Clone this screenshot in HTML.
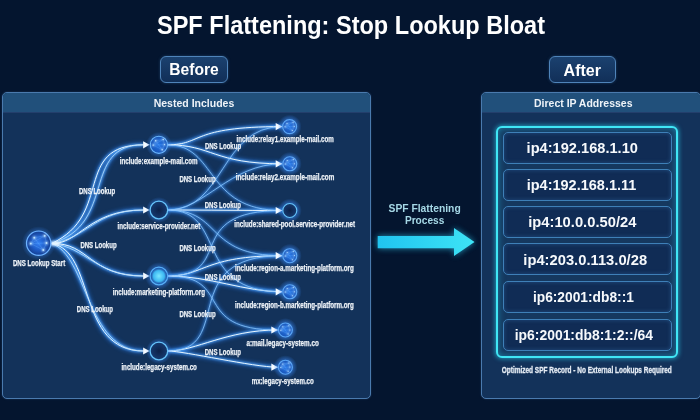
<!DOCTYPE html>
<html><head><meta charset="utf-8">
<style>
*{margin:0;padding:0;box-sizing:border-box}
html,body{width:700px;height:420px;overflow:hidden;background:#04152f;font-family:"Liberation Sans",sans-serif;color:#fff}
.abs{position:absolute}
#title{left:0;top:10px;width:700px;text-align:center;transform:scaleX(.946);font-weight:bold;font-size:25px;line-height:30px;color:#fff}
.btn{position:absolute;height:27px;border:1px solid #4f84ba;border-radius:6px;background:linear-gradient(#1b416f,#112f58);box-shadow:0 0 3px rgba(80,140,210,.35);font-weight:bold;font-size:17px;line-height:25px;text-align:center;color:#fff}
.panel{position:absolute;top:91.5px;height:307px;border:1px solid #4a7aae;box-shadow:0 0 2px rgba(90,140,200,.3);border-radius:5px;background:#13325a;overflow:hidden}
.panel .hd{position:absolute;left:0;top:0;right:0;height:20.5px;background:#21507b;border-bottom:1px solid #233f6c}
.hdt{position:absolute;font-weight:bold;font-size:11px;line-height:12px;color:#eef4fa;white-space:nowrap}
#cyan{position:absolute;left:496px;top:126px;width:182px;height:232px;border:2px solid #40e6f6;border-radius:6px;box-shadow:0 0 4px 1px rgba(40,210,240,.6), inset 0 0 7px rgba(40,200,235,.5);background:#15385f}
.ip{position:absolute;left:502.8px;width:169px;height:32.3px;border:1px solid #3e80b8;border-radius:5px;background:#102c55;box-shadow:inset 0 0 4px rgba(70,140,210,.35);font-weight:bold;font-size:15px;line-height:31px;text-align:center;color:#f4f8fc;white-space:nowrap}
.cap{position:absolute;font-weight:bold;white-space:nowrap;color:#e8eef6;transform-origin:0 0}
</style></head><body>
<div class="btn" style="left:160px;top:56px;width:68px"></div>
<div class="btn" style="left:549px;top:56px;width:67px"></div>

<div class="panel" style="left:2px;width:369px"><div class="hd"></div></div>

<div class="panel" style="left:481px;width:220px"><div class="hd"></div></div>

<div id="cyan"></div>
<div class="ip" style="top:131.8px"></div>
<div class="ip" style="top:168.8px"></div>
<div class="ip" style="top:206px"></div>
<div class="ip" style="top:243.2px"></div>
<div class="ip" style="top:281.2px"></div>
<div class="ip" style="top:319px"></div>

<svg class="abs" style="left:0;top:0;will-change:transform" width="700" height="420">
<defs>
<linearGradient id="ag" x1="0" x2="1"><stop offset="0" stop-color="#20c4f0"/><stop offset="1" stop-color="#3ee4f6"/></linearGradient>
<radialGradient id="halo"><stop offset=".55" stop-color="#3a8cff" stop-opacity=".55"/><stop offset="1" stop-color="#3a8cff" stop-opacity="0"/></radialGradient>
<radialGradient id="nodefill" cx=".5" cy=".5" r=".5"><stop offset="0" stop-color="#1e6ee0"/><stop offset="1" stop-color="#1a56b8"/></radialGradient>
<radialGradient id="startfill" cx=".5" cy=".5" r=".5"><stop offset="0" stop-color="#2e7cf2"/><stop offset=".55" stop-color="#1e5cc8"/><stop offset=".9" stop-color="#17459c"/><stop offset="1" stop-color="#2a66d0"/></radialGradient>
<filter id="dotglow" x="-50%" y="-50%" width="200%" height="200%"><feGaussianBlur stdDeviation="0.9"/></filter>
<radialGradient id="ringfill"><stop offset="0" stop-color="#0c2148"/><stop offset="1" stop-color="#163a70"/></radialGradient>
<radialGradient id="cyanfill" cx=".5" cy=".5" r=".5"><stop offset="0" stop-color="#7ae8ff"/><stop offset="1" stop-color="#38b4f2"/></radialGradient>
<filter id="glow" x="-20%" y="-40%" width="140%" height="180%"><feGaussianBlur stdDeviation="3"/></filter>
<filter id="lglow" x="-10%" y="-10%" width="120%" height="120%"><feGaussianBlur stdDeviation="2"/></filter>
<filter id="lglow2" x="-10%" y="-10%" width="120%" height="120%"><feGaussianBlur stdDeviation="0.8"/></filter>
</defs>
<path d="M377.7 236 H454 V228 L474.5 242 L454 256 V248.3 H377.7 Z" fill="#2fc6f0" filter="url(#glow)" opacity=".7"/>
<path d="M377.7 236 H454 V228 L474.5 242 L454 256 V248.3 H377.7 Z" fill="url(#ag)"/>
<g fill="none" stroke="#2f86ff" stroke-width="4" opacity=".55" filter="url(#lglow)"><path d="M51.5,243.5 C114.1,214.8 72,145 143.5,144.8"/><path d="M51.5,243.5 C79.5,244.3 87.9,210 143.5,210"/><path d="M51.5,243.5 C89.7,242.5 88.7,276 143.5,276"/><path d="M51.5,243.5 C95.9,250.7 76.2,351 143.5,351"/><path d="M167.5,144.8 C203.5,144.8 189.0,126.6 282.0,126.6"/><path d="M167.5,144.8 C212.5,144.8 213.0,163.8 282.0,163.8"/><path d="M168.0,210.0 C208.0,210.0 242.0,210.5 282.0,210.5"/><path d="M168.0,276.0 C204.0,276.0 204.0,255.7 282.0,255.7"/><path d="M168.0,276.0 C209.0,276.0 245.0,291.8 282.0,291.8"/><path d="M168.0,351.0 C196.0,351.0 226.6,330.0 277.6,330.0"/><path d="M168.0,351.0 C184.0,351.0 253.6,367.2 277.6,367.2"/><path d="M51.5,243.5 C118,224 80,145 143.5,144.8"/><path d="M51.5,243.5 C86,239 95,210 143.5,210"/><path d="M51.5,243.5 C86,247 96,276 143.5,276"/><path d="M51.5,243.5 C88,256 86,351 143.5,351"/></g>
<g fill="none" stroke="#2f86ff" stroke-width="3" opacity=".4" filter="url(#lglow)"><path d="M167.5,144.8 C217.5,144.8 204.0,210.5 282.0,210.5"/><path d="M168.0,210.0 C225.0,210.0 220.0,126.6 282.0,126.6"/><path d="M168.0,210.0 C204.0,210.0 230.0,163.8 282.0,163.8"/><path d="M168.0,210.0 C223.0,210.0 204.0,255.7 282.0,255.7"/><path d="M168.0,210.0 C228.0,210.0 192.0,291.8 282.0,291.8"/><path d="M168.0,276.0 C237.0,276.0 180.0,210.5 282.0,210.5"/><path d="M168.0,276.0 C235.0,276.0 189.6,330.0 277.6,330.0"/><path d="M168.0,351.0 C236.0,351.0 175.0,255.7 282.0,255.7"/></g>
<g fill="none" stroke="#56aaff" stroke-width="2.2" opacity=".8" filter="url(#lglow2)"><path d="M51.5,243.5 C114.1,214.8 72,145 143.5,144.8"/><path d="M51.5,243.5 C79.5,244.3 87.9,210 143.5,210"/><path d="M51.5,243.5 C89.7,242.5 88.7,276 143.5,276"/><path d="M51.5,243.5 C95.9,250.7 76.2,351 143.5,351"/><path d="M167.5,144.8 C203.5,144.8 189.0,126.6 282.0,126.6"/><path d="M167.5,144.8 C212.5,144.8 213.0,163.8 282.0,163.8"/><path d="M168.0,210.0 C208.0,210.0 242.0,210.5 282.0,210.5"/><path d="M168.0,276.0 C204.0,276.0 204.0,255.7 282.0,255.7"/><path d="M168.0,276.0 C209.0,276.0 245.0,291.8 282.0,291.8"/><path d="M168.0,351.0 C196.0,351.0 226.6,330.0 277.6,330.0"/><path d="M168.0,351.0 C184.0,351.0 253.6,367.2 277.6,367.2"/><path d="M51.5,243.5 C118,224 80,145 143.5,144.8"/><path d="M51.5,243.5 C86,239 95,210 143.5,210"/><path d="M51.5,243.5 C86,247 96,276 143.5,276"/><path d="M51.5,243.5 C88,256 86,351 143.5,351"/></g>
<g fill="none" stroke="#4a9cf0" stroke-width="1.6" opacity=".7" filter="url(#lglow2)"><path d="M167.5,144.8 C217.5,144.8 204.0,210.5 282.0,210.5"/><path d="M168.0,210.0 C225.0,210.0 220.0,126.6 282.0,126.6"/><path d="M168.0,210.0 C204.0,210.0 230.0,163.8 282.0,163.8"/><path d="M168.0,210.0 C223.0,210.0 204.0,255.7 282.0,255.7"/><path d="M168.0,210.0 C228.0,210.0 192.0,291.8 282.0,291.8"/><path d="M168.0,276.0 C237.0,276.0 180.0,210.5 282.0,210.5"/><path d="M168.0,276.0 C235.0,276.0 189.6,330.0 277.6,330.0"/><path d="M168.0,351.0 C236.0,351.0 175.0,255.7 282.0,255.7"/></g>
<g fill="none" stroke="#e8f6ff" stroke-width="1"><path d="M51.5,243.5 C114.1,214.8 72,145 143.5,144.8"/><path d="M51.5,243.5 C79.5,244.3 87.9,210 143.5,210"/><path d="M51.5,243.5 C89.7,242.5 88.7,276 143.5,276"/><path d="M51.5,243.5 C95.9,250.7 76.2,351 143.5,351"/><path d="M167.5,144.8 C203.5,144.8 189.0,126.6 282.0,126.6"/><path d="M167.5,144.8 C212.5,144.8 213.0,163.8 282.0,163.8"/><path d="M168.0,210.0 C208.0,210.0 242.0,210.5 282.0,210.5"/><path d="M168.0,276.0 C204.0,276.0 204.0,255.7 282.0,255.7"/><path d="M168.0,276.0 C209.0,276.0 245.0,291.8 282.0,291.8"/><path d="M168.0,351.0 C196.0,351.0 226.6,330.0 277.6,330.0"/><path d="M168.0,351.0 C184.0,351.0 253.6,367.2 277.6,367.2"/></g>
<g fill="none" stroke="#b8e0ff" stroke-width=".8"><path d="M51.5,243.5 C118,224 80,145 143.5,144.8"/><path d="M51.5,243.5 C86,239 95,210 143.5,210"/><path d="M51.5,243.5 C86,247 96,276 143.5,276"/><path d="M51.5,243.5 C88,256 86,351 143.5,351"/></g>
<g fill="none" stroke="#8cc6ff" stroke-width=".8"><path d="M167.5,144.8 C217.5,144.8 204.0,210.5 282.0,210.5"/><path d="M168.0,210.0 C225.0,210.0 220.0,126.6 282.0,126.6"/><path d="M168.0,210.0 C204.0,210.0 230.0,163.8 282.0,163.8"/><path d="M168.0,210.0 C223.0,210.0 204.0,255.7 282.0,255.7"/><path d="M168.0,210.0 C228.0,210.0 192.0,291.8 282.0,291.8"/><path d="M168.0,276.0 C237.0,276.0 180.0,210.5 282.0,210.5"/><path d="M168.0,276.0 C235.0,276.0 189.6,330.0 277.6,330.0"/><path d="M168.0,351.0 C236.0,351.0 175.0,255.7 282.0,255.7"/></g>
<g fill="#f4faff"><path d="M143.1,141.2 L149.6,144.8 L143.1,148.4 Z"/><path d="M143.1,206.4 L149.6,210.0 L143.1,213.6 Z"/><path d="M143.1,272.4 L149.6,276.0 L143.1,279.6 Z"/><path d="M143.1,347.4 L149.6,351.0 L143.1,354.6 Z"/><path d="M275.7,123.0 L282.2,126.6 L275.7,130.2 Z"/><path d="M275.7,160.2 L282.2,163.8 L275.7,167.4 Z"/><path d="M275.7,206.9 L282.2,210.5 L275.7,214.1 Z"/><path d="M275.7,252.1 L282.2,255.7 L275.7,259.3 Z"/><path d="M275.7,288.2 L282.2,291.8 L275.7,295.4 Z"/><path d="M271.3,326.4 L277.8,330.0 L271.3,333.6 Z"/><path d="M271.3,363.6 L277.8,367.2 L271.3,370.8 Z"/></g>
<circle cx="38.7" cy="243.2" r="17" fill="url(#halo)"/><ellipse cx="55" cy="243.5" rx="5" ry="2.2" fill="#e8f6ff" filter="url(#dotglow)"/><circle cx="38.7" cy="243.2" r="12.2" fill="url(#startfill)" stroke="#6fb4ff" stroke-width="1.2"/><g filter="url(#dotglow)"><line x1="34.3" y1="237.7" x2="44.7" y2="235.8" stroke="#5ea8ff" stroke-width=".5" opacity=".6"/><line x1="34.3" y1="237.7" x2="30.8" y2="243.6" stroke="#5ea8ff" stroke-width=".5" opacity=".6"/><line x1="34.3" y1="237.7" x2="43.3" y2="250.0" stroke="#5ea8ff" stroke-width=".5" opacity=".6"/><line x1="44.7" y1="235.8" x2="30.8" y2="243.6" stroke="#5ea8ff" stroke-width=".5" opacity=".6"/><line x1="44.7" y1="235.8" x2="46.5" y2="243.0" stroke="#5ea8ff" stroke-width=".5" opacity=".6"/><line x1="30.8" y1="243.6" x2="46.5" y2="243.0" stroke="#5ea8ff" stroke-width=".5" opacity=".6"/><line x1="30.8" y1="243.6" x2="43.3" y2="250.0" stroke="#5ea8ff" stroke-width=".5" opacity=".6"/><line x1="46.5" y1="243.0" x2="43.3" y2="250.0" stroke="#5ea8ff" stroke-width=".5" opacity=".6"/><circle cx="34.3" cy="237.7" r="1.5" fill="#bfe4ff"/><circle cx="44.7" cy="235.8" r="1.5" fill="#bfe4ff"/><circle cx="30.8" cy="243.6" r="1.5" fill="#bfe4ff"/><circle cx="46.5" cy="243.0" r="1.5" fill="#bfe4ff"/><circle cx="43.3" cy="250.0" r="1.5" fill="#bfe4ff"/></g><line x1="34.3" y1="237.7" x2="44.7" y2="235.8" stroke="#5ea8ff" stroke-width=".5" opacity=".6"/><line x1="34.3" y1="237.7" x2="30.8" y2="243.6" stroke="#5ea8ff" stroke-width=".5" opacity=".6"/><line x1="34.3" y1="237.7" x2="43.3" y2="250.0" stroke="#5ea8ff" stroke-width=".5" opacity=".6"/><line x1="44.7" y1="235.8" x2="30.8" y2="243.6" stroke="#5ea8ff" stroke-width=".5" opacity=".6"/><line x1="44.7" y1="235.8" x2="46.5" y2="243.0" stroke="#5ea8ff" stroke-width=".5" opacity=".6"/><line x1="30.8" y1="243.6" x2="46.5" y2="243.0" stroke="#5ea8ff" stroke-width=".5" opacity=".6"/><line x1="30.8" y1="243.6" x2="43.3" y2="250.0" stroke="#5ea8ff" stroke-width=".5" opacity=".6"/><line x1="46.5" y1="243.0" x2="43.3" y2="250.0" stroke="#5ea8ff" stroke-width=".5" opacity=".6"/><circle cx="34.3" cy="237.7" r="0.9" fill="#bfe4ff"/><circle cx="44.7" cy="235.8" r="0.9" fill="#bfe4ff"/><circle cx="30.8" cy="243.6" r="0.9" fill="#bfe4ff"/><circle cx="46.5" cy="243.0" r="0.9" fill="#bfe4ff"/><circle cx="43.3" cy="250.0" r="0.9" fill="#bfe4ff"/><circle cx="158.9" cy="144.8" r="13" fill="url(#halo)"/><circle cx="158.9" cy="144.8" r="8.6" fill="url(#nodefill)" stroke="#6cb8ff" stroke-width="1.1"/><g filter="url(#dotglow)"><line x1="155.7" y1="140.8" x2="163.2" y2="139.5" stroke="#5ea8ff" stroke-width=".5" opacity=".6"/><line x1="155.7" y1="140.8" x2="153.2" y2="145.1" stroke="#5ea8ff" stroke-width=".5" opacity=".6"/><line x1="155.7" y1="140.8" x2="162.2" y2="149.7" stroke="#5ea8ff" stroke-width=".5" opacity=".6"/><line x1="163.2" y1="139.5" x2="153.2" y2="145.1" stroke="#5ea8ff" stroke-width=".5" opacity=".6"/><line x1="163.2" y1="139.5" x2="164.5" y2="144.6" stroke="#5ea8ff" stroke-width=".5" opacity=".6"/><line x1="153.2" y1="145.1" x2="164.5" y2="144.6" stroke="#5ea8ff" stroke-width=".5" opacity=".6"/><line x1="153.2" y1="145.1" x2="162.2" y2="149.7" stroke="#5ea8ff" stroke-width=".5" opacity=".6"/><line x1="164.5" y1="144.6" x2="162.2" y2="149.7" stroke="#5ea8ff" stroke-width=".5" opacity=".6"/><circle cx="155.7" cy="140.8" r="1.1" fill="#bfe4ff"/><circle cx="163.2" cy="139.5" r="1.1" fill="#bfe4ff"/><circle cx="153.2" cy="145.1" r="1.1" fill="#bfe4ff"/><circle cx="164.5" cy="144.6" r="1.1" fill="#bfe4ff"/><circle cx="162.2" cy="149.7" r="1.1" fill="#bfe4ff"/></g><line x1="155.7" y1="140.8" x2="163.2" y2="139.5" stroke="#5ea8ff" stroke-width=".5" opacity=".6"/><line x1="155.7" y1="140.8" x2="153.2" y2="145.1" stroke="#5ea8ff" stroke-width=".5" opacity=".6"/><line x1="155.7" y1="140.8" x2="162.2" y2="149.7" stroke="#5ea8ff" stroke-width=".5" opacity=".6"/><line x1="163.2" y1="139.5" x2="153.2" y2="145.1" stroke="#5ea8ff" stroke-width=".5" opacity=".6"/><line x1="163.2" y1="139.5" x2="164.5" y2="144.6" stroke="#5ea8ff" stroke-width=".5" opacity=".6"/><line x1="153.2" y1="145.1" x2="164.5" y2="144.6" stroke="#5ea8ff" stroke-width=".5" opacity=".6"/><line x1="153.2" y1="145.1" x2="162.2" y2="149.7" stroke="#5ea8ff" stroke-width=".5" opacity=".6"/><line x1="164.5" y1="144.6" x2="162.2" y2="149.7" stroke="#5ea8ff" stroke-width=".5" opacity=".6"/><circle cx="155.7" cy="140.8" r="0.7" fill="#bfe4ff"/><circle cx="163.2" cy="139.5" r="0.7" fill="#bfe4ff"/><circle cx="153.2" cy="145.1" r="0.7" fill="#bfe4ff"/><circle cx="164.5" cy="144.6" r="0.7" fill="#bfe4ff"/><circle cx="162.2" cy="149.7" r="0.7" fill="#bfe4ff"/><circle cx="158.9" cy="210" r="13" fill="url(#halo)"/><circle cx="158.9" cy="210" r="8.8" fill="url(#ringfill)" stroke="#66c4fa" stroke-width="1.3"/><circle cx="158.9" cy="351" r="13" fill="url(#halo)"/><circle cx="158.9" cy="351" r="8.8" fill="url(#ringfill)" stroke="#66c4fa" stroke-width="1.3"/><circle cx="158.9" cy="276" r="14" fill="url(#halo)"/><circle cx="158.9" cy="276" r="8.8" fill="#1a4ea8" stroke="#58aef6" stroke-width="1.2"/><circle cx="158.9" cy="276" r="6.6" fill="#48c8f8" filter="url(#dotglow)"/><circle cx="158.9" cy="276" r="5.8" fill="url(#cyanfill)"/><circle cx="289.6" cy="126.6" r="12" fill="url(#halo)"/><circle cx="289.6" cy="126.6" r="7" fill="url(#nodefill)" stroke="#5aa6f6" stroke-width="1.1"/><g filter="url(#dotglow)"><line x1="287.0" y1="123.4" x2="293.1" y2="122.3" stroke="#5ea8ff" stroke-width=".5" opacity=".6"/><line x1="287.0" y1="123.4" x2="285.0" y2="126.8" stroke="#5ea8ff" stroke-width=".5" opacity=".6"/><line x1="287.0" y1="123.4" x2="292.3" y2="130.6" stroke="#5ea8ff" stroke-width=".5" opacity=".6"/><line x1="293.1" y1="122.3" x2="285.0" y2="126.8" stroke="#5ea8ff" stroke-width=".5" opacity=".6"/><line x1="293.1" y1="122.3" x2="294.2" y2="126.5" stroke="#5ea8ff" stroke-width=".5" opacity=".6"/><line x1="285.0" y1="126.8" x2="294.2" y2="126.5" stroke="#5ea8ff" stroke-width=".5" opacity=".6"/><line x1="285.0" y1="126.8" x2="292.3" y2="130.6" stroke="#5ea8ff" stroke-width=".5" opacity=".6"/><line x1="294.2" y1="126.5" x2="292.3" y2="130.6" stroke="#5ea8ff" stroke-width=".5" opacity=".6"/><circle cx="287.0" cy="123.4" r="0.9" fill="#bfe4ff"/><circle cx="293.1" cy="122.3" r="0.9" fill="#bfe4ff"/><circle cx="285.0" cy="126.8" r="0.9" fill="#bfe4ff"/><circle cx="294.2" cy="126.5" r="0.9" fill="#bfe4ff"/><circle cx="292.3" cy="130.6" r="0.9" fill="#bfe4ff"/></g><line x1="287.0" y1="123.4" x2="293.1" y2="122.3" stroke="#5ea8ff" stroke-width=".5" opacity=".6"/><line x1="287.0" y1="123.4" x2="285.0" y2="126.8" stroke="#5ea8ff" stroke-width=".5" opacity=".6"/><line x1="287.0" y1="123.4" x2="292.3" y2="130.6" stroke="#5ea8ff" stroke-width=".5" opacity=".6"/><line x1="293.1" y1="122.3" x2="285.0" y2="126.8" stroke="#5ea8ff" stroke-width=".5" opacity=".6"/><line x1="293.1" y1="122.3" x2="294.2" y2="126.5" stroke="#5ea8ff" stroke-width=".5" opacity=".6"/><line x1="285.0" y1="126.8" x2="294.2" y2="126.5" stroke="#5ea8ff" stroke-width=".5" opacity=".6"/><line x1="285.0" y1="126.8" x2="292.3" y2="130.6" stroke="#5ea8ff" stroke-width=".5" opacity=".6"/><line x1="294.2" y1="126.5" x2="292.3" y2="130.6" stroke="#5ea8ff" stroke-width=".5" opacity=".6"/><circle cx="287.0" cy="123.4" r="0.5" fill="#bfe4ff"/><circle cx="293.1" cy="122.3" r="0.5" fill="#bfe4ff"/><circle cx="285.0" cy="126.8" r="0.5" fill="#bfe4ff"/><circle cx="294.2" cy="126.5" r="0.5" fill="#bfe4ff"/><circle cx="292.3" cy="130.6" r="0.5" fill="#bfe4ff"/><circle cx="289.8" cy="163.8" r="12" fill="url(#halo)"/><circle cx="289.8" cy="163.8" r="7" fill="url(#nodefill)" stroke="#5aa6f6" stroke-width="1.1"/><g filter="url(#dotglow)"><line x1="287.2" y1="160.6" x2="293.3" y2="159.5" stroke="#5ea8ff" stroke-width=".5" opacity=".6"/><line x1="287.2" y1="160.6" x2="285.2" y2="164.0" stroke="#5ea8ff" stroke-width=".5" opacity=".6"/><line x1="287.2" y1="160.6" x2="292.5" y2="167.8" stroke="#5ea8ff" stroke-width=".5" opacity=".6"/><line x1="293.3" y1="159.5" x2="285.2" y2="164.0" stroke="#5ea8ff" stroke-width=".5" opacity=".6"/><line x1="293.3" y1="159.5" x2="294.4" y2="163.7" stroke="#5ea8ff" stroke-width=".5" opacity=".6"/><line x1="285.2" y1="164.0" x2="294.4" y2="163.7" stroke="#5ea8ff" stroke-width=".5" opacity=".6"/><line x1="285.2" y1="164.0" x2="292.5" y2="167.8" stroke="#5ea8ff" stroke-width=".5" opacity=".6"/><line x1="294.4" y1="163.7" x2="292.5" y2="167.8" stroke="#5ea8ff" stroke-width=".5" opacity=".6"/><circle cx="287.2" cy="160.6" r="0.9" fill="#bfe4ff"/><circle cx="293.3" cy="159.5" r="0.9" fill="#bfe4ff"/><circle cx="285.2" cy="164.0" r="0.9" fill="#bfe4ff"/><circle cx="294.4" cy="163.7" r="0.9" fill="#bfe4ff"/><circle cx="292.5" cy="167.8" r="0.9" fill="#bfe4ff"/></g><line x1="287.2" y1="160.6" x2="293.3" y2="159.5" stroke="#5ea8ff" stroke-width=".5" opacity=".6"/><line x1="287.2" y1="160.6" x2="285.2" y2="164.0" stroke="#5ea8ff" stroke-width=".5" opacity=".6"/><line x1="287.2" y1="160.6" x2="292.5" y2="167.8" stroke="#5ea8ff" stroke-width=".5" opacity=".6"/><line x1="293.3" y1="159.5" x2="285.2" y2="164.0" stroke="#5ea8ff" stroke-width=".5" opacity=".6"/><line x1="293.3" y1="159.5" x2="294.4" y2="163.7" stroke="#5ea8ff" stroke-width=".5" opacity=".6"/><line x1="285.2" y1="164.0" x2="294.4" y2="163.7" stroke="#5ea8ff" stroke-width=".5" opacity=".6"/><line x1="285.2" y1="164.0" x2="292.5" y2="167.8" stroke="#5ea8ff" stroke-width=".5" opacity=".6"/><line x1="294.4" y1="163.7" x2="292.5" y2="167.8" stroke="#5ea8ff" stroke-width=".5" opacity=".6"/><circle cx="287.2" cy="160.6" r="0.5" fill="#bfe4ff"/><circle cx="293.3" cy="159.5" r="0.5" fill="#bfe4ff"/><circle cx="285.2" cy="164.0" r="0.5" fill="#bfe4ff"/><circle cx="294.4" cy="163.7" r="0.5" fill="#bfe4ff"/><circle cx="292.5" cy="167.8" r="0.5" fill="#bfe4ff"/><circle cx="289.8" cy="210.5" r="12" fill="url(#halo)"/><circle cx="289.8" cy="210.5" r="7" fill="url(#ringfill)" stroke="#66c4fa" stroke-width="1.1"/><circle cx="289.8" cy="255.7" r="12" fill="url(#halo)"/><circle cx="289.8" cy="255.7" r="7" fill="url(#nodefill)" stroke="#5aa6f6" stroke-width="1.1"/><g filter="url(#dotglow)"><line x1="287.2" y1="252.5" x2="293.3" y2="251.4" stroke="#5ea8ff" stroke-width=".5" opacity=".6"/><line x1="287.2" y1="252.5" x2="285.2" y2="255.9" stroke="#5ea8ff" stroke-width=".5" opacity=".6"/><line x1="287.2" y1="252.5" x2="292.5" y2="259.7" stroke="#5ea8ff" stroke-width=".5" opacity=".6"/><line x1="293.3" y1="251.4" x2="285.2" y2="255.9" stroke="#5ea8ff" stroke-width=".5" opacity=".6"/><line x1="293.3" y1="251.4" x2="294.4" y2="255.6" stroke="#5ea8ff" stroke-width=".5" opacity=".6"/><line x1="285.2" y1="255.9" x2="294.4" y2="255.6" stroke="#5ea8ff" stroke-width=".5" opacity=".6"/><line x1="285.2" y1="255.9" x2="292.5" y2="259.7" stroke="#5ea8ff" stroke-width=".5" opacity=".6"/><line x1="294.4" y1="255.6" x2="292.5" y2="259.7" stroke="#5ea8ff" stroke-width=".5" opacity=".6"/><circle cx="287.2" cy="252.5" r="0.9" fill="#bfe4ff"/><circle cx="293.3" cy="251.4" r="0.9" fill="#bfe4ff"/><circle cx="285.2" cy="255.9" r="0.9" fill="#bfe4ff"/><circle cx="294.4" cy="255.6" r="0.9" fill="#bfe4ff"/><circle cx="292.5" cy="259.7" r="0.9" fill="#bfe4ff"/></g><line x1="287.2" y1="252.5" x2="293.3" y2="251.4" stroke="#5ea8ff" stroke-width=".5" opacity=".6"/><line x1="287.2" y1="252.5" x2="285.2" y2="255.9" stroke="#5ea8ff" stroke-width=".5" opacity=".6"/><line x1="287.2" y1="252.5" x2="292.5" y2="259.7" stroke="#5ea8ff" stroke-width=".5" opacity=".6"/><line x1="293.3" y1="251.4" x2="285.2" y2="255.9" stroke="#5ea8ff" stroke-width=".5" opacity=".6"/><line x1="293.3" y1="251.4" x2="294.4" y2="255.6" stroke="#5ea8ff" stroke-width=".5" opacity=".6"/><line x1="285.2" y1="255.9" x2="294.4" y2="255.6" stroke="#5ea8ff" stroke-width=".5" opacity=".6"/><line x1="285.2" y1="255.9" x2="292.5" y2="259.7" stroke="#5ea8ff" stroke-width=".5" opacity=".6"/><line x1="294.4" y1="255.6" x2="292.5" y2="259.7" stroke="#5ea8ff" stroke-width=".5" opacity=".6"/><circle cx="287.2" cy="252.5" r="0.5" fill="#bfe4ff"/><circle cx="293.3" cy="251.4" r="0.5" fill="#bfe4ff"/><circle cx="285.2" cy="255.9" r="0.5" fill="#bfe4ff"/><circle cx="294.4" cy="255.6" r="0.5" fill="#bfe4ff"/><circle cx="292.5" cy="259.7" r="0.5" fill="#bfe4ff"/><circle cx="289.8" cy="291.8" r="12" fill="url(#halo)"/><circle cx="289.8" cy="291.8" r="7" fill="url(#nodefill)" stroke="#5aa6f6" stroke-width="1.1"/><g filter="url(#dotglow)"><line x1="287.2" y1="288.6" x2="293.3" y2="287.5" stroke="#5ea8ff" stroke-width=".5" opacity=".6"/><line x1="287.2" y1="288.6" x2="285.2" y2="292.0" stroke="#5ea8ff" stroke-width=".5" opacity=".6"/><line x1="287.2" y1="288.6" x2="292.5" y2="295.8" stroke="#5ea8ff" stroke-width=".5" opacity=".6"/><line x1="293.3" y1="287.5" x2="285.2" y2="292.0" stroke="#5ea8ff" stroke-width=".5" opacity=".6"/><line x1="293.3" y1="287.5" x2="294.4" y2="291.7" stroke="#5ea8ff" stroke-width=".5" opacity=".6"/><line x1="285.2" y1="292.0" x2="294.4" y2="291.7" stroke="#5ea8ff" stroke-width=".5" opacity=".6"/><line x1="285.2" y1="292.0" x2="292.5" y2="295.8" stroke="#5ea8ff" stroke-width=".5" opacity=".6"/><line x1="294.4" y1="291.7" x2="292.5" y2="295.8" stroke="#5ea8ff" stroke-width=".5" opacity=".6"/><circle cx="287.2" cy="288.6" r="0.9" fill="#bfe4ff"/><circle cx="293.3" cy="287.5" r="0.9" fill="#bfe4ff"/><circle cx="285.2" cy="292.0" r="0.9" fill="#bfe4ff"/><circle cx="294.4" cy="291.7" r="0.9" fill="#bfe4ff"/><circle cx="292.5" cy="295.8" r="0.9" fill="#bfe4ff"/></g><line x1="287.2" y1="288.6" x2="293.3" y2="287.5" stroke="#5ea8ff" stroke-width=".5" opacity=".6"/><line x1="287.2" y1="288.6" x2="285.2" y2="292.0" stroke="#5ea8ff" stroke-width=".5" opacity=".6"/><line x1="287.2" y1="288.6" x2="292.5" y2="295.8" stroke="#5ea8ff" stroke-width=".5" opacity=".6"/><line x1="293.3" y1="287.5" x2="285.2" y2="292.0" stroke="#5ea8ff" stroke-width=".5" opacity=".6"/><line x1="293.3" y1="287.5" x2="294.4" y2="291.7" stroke="#5ea8ff" stroke-width=".5" opacity=".6"/><line x1="285.2" y1="292.0" x2="294.4" y2="291.7" stroke="#5ea8ff" stroke-width=".5" opacity=".6"/><line x1="285.2" y1="292.0" x2="292.5" y2="295.8" stroke="#5ea8ff" stroke-width=".5" opacity=".6"/><line x1="294.4" y1="291.7" x2="292.5" y2="295.8" stroke="#5ea8ff" stroke-width=".5" opacity=".6"/><circle cx="287.2" cy="288.6" r="0.5" fill="#bfe4ff"/><circle cx="293.3" cy="287.5" r="0.5" fill="#bfe4ff"/><circle cx="285.2" cy="292.0" r="0.5" fill="#bfe4ff"/><circle cx="294.4" cy="291.7" r="0.5" fill="#bfe4ff"/><circle cx="292.5" cy="295.8" r="0.5" fill="#bfe4ff"/><circle cx="285.4" cy="330" r="12" fill="url(#halo)"/><circle cx="285.4" cy="330" r="7" fill="url(#nodefill)" stroke="#5aa6f6" stroke-width="1.1"/><g filter="url(#dotglow)"><line x1="282.8" y1="326.8" x2="288.9" y2="325.7" stroke="#5ea8ff" stroke-width=".5" opacity=".6"/><line x1="282.8" y1="326.8" x2="280.8" y2="330.2" stroke="#5ea8ff" stroke-width=".5" opacity=".6"/><line x1="282.8" y1="326.8" x2="288.1" y2="334.0" stroke="#5ea8ff" stroke-width=".5" opacity=".6"/><line x1="288.9" y1="325.7" x2="280.8" y2="330.2" stroke="#5ea8ff" stroke-width=".5" opacity=".6"/><line x1="288.9" y1="325.7" x2="289.9" y2="329.9" stroke="#5ea8ff" stroke-width=".5" opacity=".6"/><line x1="280.8" y1="330.2" x2="289.9" y2="329.9" stroke="#5ea8ff" stroke-width=".5" opacity=".6"/><line x1="280.8" y1="330.2" x2="288.1" y2="334.0" stroke="#5ea8ff" stroke-width=".5" opacity=".6"/><line x1="289.9" y1="329.9" x2="288.1" y2="334.0" stroke="#5ea8ff" stroke-width=".5" opacity=".6"/><circle cx="282.8" cy="326.8" r="0.9" fill="#bfe4ff"/><circle cx="288.9" cy="325.7" r="0.9" fill="#bfe4ff"/><circle cx="280.8" cy="330.2" r="0.9" fill="#bfe4ff"/><circle cx="289.9" cy="329.9" r="0.9" fill="#bfe4ff"/><circle cx="288.1" cy="334.0" r="0.9" fill="#bfe4ff"/></g><line x1="282.8" y1="326.8" x2="288.9" y2="325.7" stroke="#5ea8ff" stroke-width=".5" opacity=".6"/><line x1="282.8" y1="326.8" x2="280.8" y2="330.2" stroke="#5ea8ff" stroke-width=".5" opacity=".6"/><line x1="282.8" y1="326.8" x2="288.1" y2="334.0" stroke="#5ea8ff" stroke-width=".5" opacity=".6"/><line x1="288.9" y1="325.7" x2="280.8" y2="330.2" stroke="#5ea8ff" stroke-width=".5" opacity=".6"/><line x1="288.9" y1="325.7" x2="289.9" y2="329.9" stroke="#5ea8ff" stroke-width=".5" opacity=".6"/><line x1="280.8" y1="330.2" x2="289.9" y2="329.9" stroke="#5ea8ff" stroke-width=".5" opacity=".6"/><line x1="280.8" y1="330.2" x2="288.1" y2="334.0" stroke="#5ea8ff" stroke-width=".5" opacity=".6"/><line x1="289.9" y1="329.9" x2="288.1" y2="334.0" stroke="#5ea8ff" stroke-width=".5" opacity=".6"/><circle cx="282.8" cy="326.8" r="0.5" fill="#bfe4ff"/><circle cx="288.9" cy="325.7" r="0.5" fill="#bfe4ff"/><circle cx="280.8" cy="330.2" r="0.5" fill="#bfe4ff"/><circle cx="289.9" cy="329.9" r="0.5" fill="#bfe4ff"/><circle cx="288.1" cy="334.0" r="0.5" fill="#bfe4ff"/><circle cx="285.4" cy="367.2" r="12" fill="url(#halo)"/><circle cx="285.4" cy="367.2" r="7" fill="url(#nodefill)" stroke="#5aa6f6" stroke-width="1.1"/><g filter="url(#dotglow)"><line x1="282.8" y1="364.0" x2="288.9" y2="362.9" stroke="#5ea8ff" stroke-width=".5" opacity=".6"/><line x1="282.8" y1="364.0" x2="280.8" y2="367.4" stroke="#5ea8ff" stroke-width=".5" opacity=".6"/><line x1="282.8" y1="364.0" x2="288.1" y2="371.2" stroke="#5ea8ff" stroke-width=".5" opacity=".6"/><line x1="288.9" y1="362.9" x2="280.8" y2="367.4" stroke="#5ea8ff" stroke-width=".5" opacity=".6"/><line x1="288.9" y1="362.9" x2="289.9" y2="367.1" stroke="#5ea8ff" stroke-width=".5" opacity=".6"/><line x1="280.8" y1="367.4" x2="289.9" y2="367.1" stroke="#5ea8ff" stroke-width=".5" opacity=".6"/><line x1="280.8" y1="367.4" x2="288.1" y2="371.2" stroke="#5ea8ff" stroke-width=".5" opacity=".6"/><line x1="289.9" y1="367.1" x2="288.1" y2="371.2" stroke="#5ea8ff" stroke-width=".5" opacity=".6"/><circle cx="282.8" cy="364.0" r="0.9" fill="#bfe4ff"/><circle cx="288.9" cy="362.9" r="0.9" fill="#bfe4ff"/><circle cx="280.8" cy="367.4" r="0.9" fill="#bfe4ff"/><circle cx="289.9" cy="367.1" r="0.9" fill="#bfe4ff"/><circle cx="288.1" cy="371.2" r="0.9" fill="#bfe4ff"/></g><line x1="282.8" y1="364.0" x2="288.9" y2="362.9" stroke="#5ea8ff" stroke-width=".5" opacity=".6"/><line x1="282.8" y1="364.0" x2="280.8" y2="367.4" stroke="#5ea8ff" stroke-width=".5" opacity=".6"/><line x1="282.8" y1="364.0" x2="288.1" y2="371.2" stroke="#5ea8ff" stroke-width=".5" opacity=".6"/><line x1="288.9" y1="362.9" x2="280.8" y2="367.4" stroke="#5ea8ff" stroke-width=".5" opacity=".6"/><line x1="288.9" y1="362.9" x2="289.9" y2="367.1" stroke="#5ea8ff" stroke-width=".5" opacity=".6"/><line x1="280.8" y1="367.4" x2="289.9" y2="367.1" stroke="#5ea8ff" stroke-width=".5" opacity=".6"/><line x1="280.8" y1="367.4" x2="288.1" y2="371.2" stroke="#5ea8ff" stroke-width=".5" opacity=".6"/><line x1="289.9" y1="367.1" x2="288.1" y2="371.2" stroke="#5ea8ff" stroke-width=".5" opacity=".6"/><circle cx="282.8" cy="364.0" r="0.5" fill="#bfe4ff"/><circle cx="288.9" cy="362.9" r="0.5" fill="#bfe4ff"/><circle cx="280.8" cy="367.4" r="0.5" fill="#bfe4ff"/><circle cx="289.9" cy="367.1" r="0.5" fill="#bfe4ff"/><circle cx="288.1" cy="371.2" r="0.5" fill="#bfe4ff"/>
<g font-family="Liberation Sans" font-weight="bold" font-size="8.3" fill="#eef3f8" stroke="#eef3f8" stroke-width="0.25"><text x="12.9" y="266.2" textLength="52.3" lengthAdjust="spacingAndGlyphs">DNS Lookup Start</text><text x="119.8" y="163.8" textLength="77.8" lengthAdjust="spacingAndGlyphs">include:example-mail.com</text><text x="117.5" y="229.0" textLength="82.8" lengthAdjust="spacingAndGlyphs">include:service-provider.net</text><text x="112.8" y="295.0" textLength="92.2" lengthAdjust="spacingAndGlyphs">include:marketing-platform.org</text><text x="121.4" y="369.6" textLength="75.5" lengthAdjust="spacingAndGlyphs">include:legacy-system.co</text><text x="236.6" y="142.3" textLength="97.1" lengthAdjust="spacingAndGlyphs">include:relay1.example-mail.com</text><text x="235.7" y="180.0" textLength="98.6" lengthAdjust="spacingAndGlyphs">include:relay2.example-mail.com</text><text x="234.3" y="226.5" textLength="120.7" lengthAdjust="spacingAndGlyphs">include:shared-pool.service-provider.net</text><text x="235.0" y="270.8" textLength="118.8" lengthAdjust="spacingAndGlyphs">include:region-a.marketing-platform.org</text><text x="235.0" y="308.0" textLength="118.8" lengthAdjust="spacingAndGlyphs">include:region-b.marketing-platform.org</text><text x="246.4" y="345.8" textLength="72.4" lengthAdjust="spacingAndGlyphs">a:mail.legacy-system.co</text><text x="251.7" y="383.5" textLength="62.1" lengthAdjust="spacingAndGlyphs">mx:legacy-system.co</text><text x="79.0" y="194.0" textLength="36.2" lengthAdjust="spacingAndGlyphs">DNS Lookup</text><text x="179.4" y="182.2" textLength="36.2" lengthAdjust="spacingAndGlyphs">DNS Lookup</text><text x="204.7" y="207.5" textLength="36.2" lengthAdjust="spacingAndGlyphs">DNS Lookup</text><text x="80.4" y="248.2" textLength="36.2" lengthAdjust="spacingAndGlyphs">DNS Lookup</text><text x="179.4" y="250.6" textLength="36.2" lengthAdjust="spacingAndGlyphs">DNS Lookup</text><text x="204.7" y="279.8" textLength="36.2" lengthAdjust="spacingAndGlyphs">DNS Lookup</text><text x="76.8" y="312.4" textLength="36.2" lengthAdjust="spacingAndGlyphs">DNS Lookup</text><text x="179.4" y="317.0" textLength="36.2" lengthAdjust="spacingAndGlyphs">DNS Lookup</text><text x="204.7" y="354.5" textLength="36.2" lengthAdjust="spacingAndGlyphs">DNS Lookup</text><text x="204.9" y="149.1" textLength="36.2" lengthAdjust="spacingAndGlyphs">DNS Lookup</text></g>
<g font-family="Liberation Sans" font-weight="bold"><text x="157.0" y="34.3" font-size="25" fill="#ffffff" textLength="388.0" lengthAdjust="spacingAndGlyphs">SPF Flattening: Stop Lookup Bloat</text><text x="169.3" y="75.0" font-size="17" fill="#ffffff" textLength="49.5" lengthAdjust="spacingAndGlyphs">Before</text><text x="563.6" y="75.5" font-size="17" fill="#ffffff" textLength="37.4" lengthAdjust="spacingAndGlyphs">After</text><text x="153.7" y="107.0" font-size="11" fill="#eef3f8" textLength="80.6" lengthAdjust="spacingAndGlyphs">Nested Includes</text><text x="534.0" y="107.1" font-size="11" fill="#eef3f8" textLength="98.5" lengthAdjust="spacingAndGlyphs">Direct IP Addresses</text><text x="526.6" y="152.7" font-size="15.5" fill="#f6f9fc" textLength="111.3" lengthAdjust="spacingAndGlyphs">ip4:192.168.1.10</text><text x="526.7" y="189.9" font-size="15.5" fill="#f6f9fc" textLength="109.7" lengthAdjust="spacingAndGlyphs">ip4:192.168.1.11</text><text x="528.2" y="227.4" font-size="15.5" fill="#f6f9fc" textLength="108.2" lengthAdjust="spacingAndGlyphs">ip4:10.0.0.50/24</text><text x="523.3" y="264.9" font-size="15.5" fill="#f6f9fc" textLength="123.8" lengthAdjust="spacingAndGlyphs">ip4:203.0.113.0/28</text><text x="532.9" y="301.9" font-size="15.5" fill="#f6f9fc" textLength="101.0" lengthAdjust="spacingAndGlyphs">ip6:2001:db8::1</text><text x="514.7" y="339.9" font-size="15.5" fill="#f6f9fc" textLength="138.4" lengthAdjust="spacingAndGlyphs">ip6:2001:db8:1:2::/64</text><text x="501.8" y="372.9" font-size="9" fill="#e6edf5" textLength="170.0" lengthAdjust="spacingAndGlyphs" stroke="#e6edf5" stroke-width="0.3">Optimized SPF Record - No External Lookups Required</text><text x="388.5" y="211.6" font-size="10.7" fill="#a6d8e6" textLength="72.2" lengthAdjust="spacingAndGlyphs">SPF Flattening</text><text x="404.9" y="224.1" font-size="10.7" fill="#a6d8e6" textLength="39.4" lengthAdjust="spacingAndGlyphs">Process</text></g>
</svg>
</body></html>
